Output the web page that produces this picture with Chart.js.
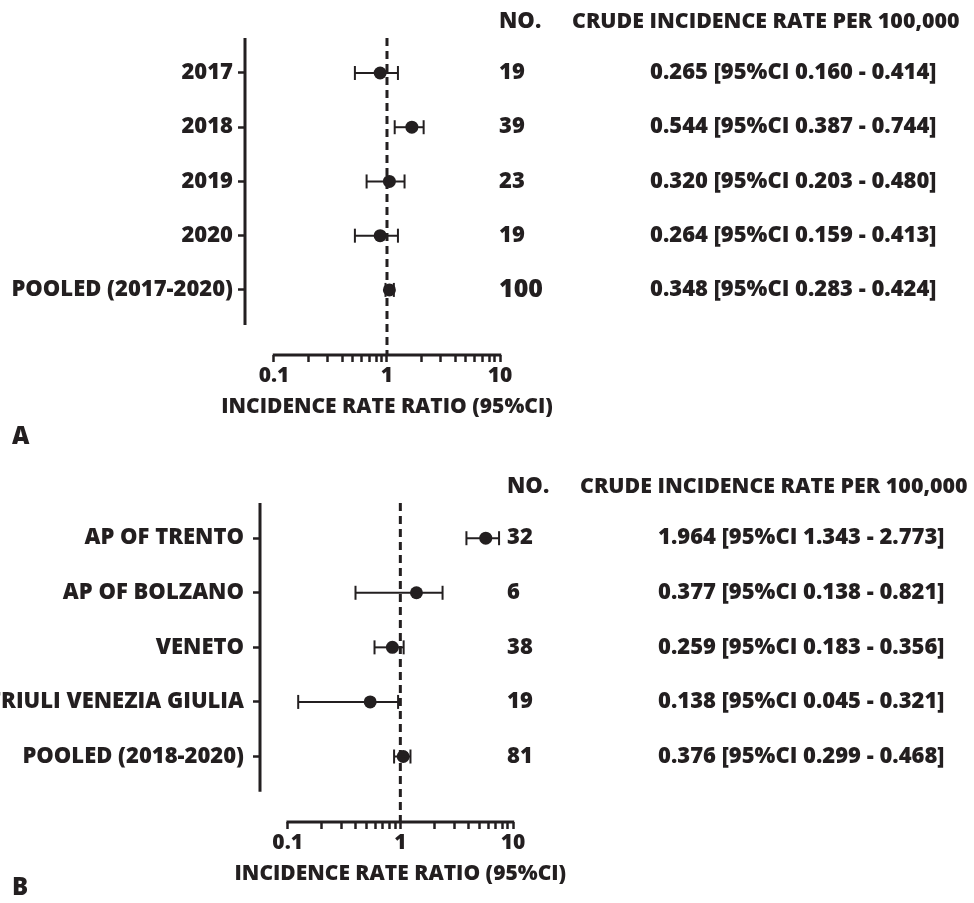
<!DOCTYPE html>
<html>
<head>
<meta charset="utf-8">
<script src="https://cdn.jsdelivr.net/npm/chart.js@4.4.1/dist/chart.umd.min.js"></script>
<style>
    body { margin: 0; background: #fff; }
    #wrap { position: relative; width: 974px; height: 903px; }
    canvas { position: absolute; left: 0; }
</style>
</head>
<body>
<div id="wrap">
    <canvas id="chartA" width="974" height="466" style="top:0"></canvas>
    <canvas id="chartB" width="974" height="437" style="top:466px"></canvas>
</div>
<script>
// panel A - per year
var yearLabels = ['2017', '2018', '2019', '2020', 'POOLED (2017-2020)'];
var yearIrr  = [0.87, 1.66, 1.05, 0.87, 1.05];
var yearLow  = [0.52, 1.17, 0.66, 0.52, 0.97];
var yearHigh = [1.25, 2.11, 1.43, 1.25, 1.15];
var yearNo   = ['19', '39', '23', '19', '100'];
var yearRate = [
    '0.265 [95%CI 0.160 - 0.414]',
    '0.544 [95%CI 0.387 - 0.744]',
    '0.320 [95%CI 0.203 - 0.480]',
    '0.264 [95%CI 0.159 - 0.413]',
    '0.348 [95%CI 0.283 - 0.424]'
];

// panel B - per area
var areaLabels = ['AP OF TRENTO', 'AP OF BOLZANO', 'VENETO', 'FRIULI VENEZIA GIULIA', 'POOLED (2018-2020)'];
var areaIrr  = [5.73, 1.39, 0.85, 0.54, 1.06];
var areaLow  = [3.86, 0.40, 0.59, 0.124, 0.88];
var areaHigh = [7.52, 2.37, 1.07, 0.955, 1.23];
var areaNo   = ['32', '6', '38', '19', '81'];
var areaRate = [
    '1.964 [95%CI 1.343 - 2.773]',
    '0.377 [95%CI 0.138 - 0.821]',
    '0.259 [95%CI 0.183 - 0.356]',
    '0.138 [95%CI 0.045 - 0.321]',
    '0.376 [95%CI 0.299 - 0.468]'
];

// log axis
var xTicks = [0.1, 0.2, 0.3, 0.4, 0.5, 0.6, 0.7, 0.8, 0.9, 1, 2, 3, 4, 5, 6, 7, 8, 9, 10];
var xTickLabels = ['0.1', '1', '10'];
var refValue = 1;

var ink = '#231f20';
var font = '"Open Sans", sans-serif';
var wt = '800';
var yMin = -0.645, yMax = 5.2, yAxisEnd = 4.645;

var decorPlugin = {
    id: 'forestDecor',
    afterDraw: function(chart, args, opts) {
        var ctx = chart.ctx;
        var xs = chart.scales.x, ys = chart.scales.y;
        var area = chart.chartArea;
        var x0 = xs.getPixelForValue(xTicks[0]);
        var x1 = xs.getPixelForValue(xTicks[xTicks.length - 1]);

        ctx.save();
        ctx.strokeStyle = ink;
        ctx.lineWidth = 3;
        // offset axis lines
        ctx.beginPath();
        ctx.moveTo(area.left, area.top);
        ctx.lineTo(area.left, ys.getPixelForValue(yAxisEnd));
        ctx.stroke();
        ctx.beginPath();
        ctx.moveTo(x0 - 1.2, area.bottom);
        ctx.lineTo(x1 + 1.2, area.bottom);
        ctx.stroke();

        // table columns
        ctx.fillStyle = ink;
        ctx.textBaseline = 'middle';
        ctx.textAlign = 'left';
        var hy = ys.getPixelForValue(-0.94);
        ctx.font = wt + ' 22px ' + font;
        ctx.fillText('NO.', opts.noX, hy);
        ctx.font = wt + ' 21.4px ' + font;
        ctx.fillText('CRUDE INCIDENCE RATE PER 100,000', opts.headX, hy);
        opts.nos.forEach(function(n, i) {
            var py = ys.getPixelForValue(i);
            ctx.font = wt + ' ' + (opts.bigLast && i === opts.nos.length - 1 ? 25 : 22) + 'px ' + font;
            ctx.fillText(n, opts.noX, py);
            ctx.font = wt + ' 22px ' + font;
            ctx.fillText(opts.rates[i], opts.rateX, py);
        });

        // axis title + panel letter
        ctx.textAlign = 'center';
        ctx.font = wt + ' 21px ' + font;
        ctx.fillText('INCIDENCE RATE RATIO (95%CI)', (x0 + x1) / 2, area.bottom + 52);
        ctx.textAlign = 'left';
        ctx.font = wt + ' 24px ' + font;
        ctx.fillText(opts.letter, 12, area.bottom + opts.letterDy);
        ctx.restore();
    }
};

function makeForest(canvasId, cfg) {
    var datasets = [];
    datasets.push({
        data: [{ x: refValue, y: yMin }, { x: refValue, y: yMax }],
        showLine: true,
        borderColor: ink,
        borderWidth: 3,
        borderDash: [8, 5],
        pointRadius: 0
    });
    cfg.labels.forEach(function(lab, i) {
        datasets.push({
            data: [{ x: cfg.low[i], y: i }, { x: cfg.high[i], y: i }],
            showLine: true,
            borderColor: ink,
            borderWidth: 2,
            pointStyle: 'line',
            pointRotation: 90,
            pointRadius: 7,
            pointBorderWidth: 2,
            pointBorderColor: ink
        });
    });
    datasets.push({
        data: cfg.irr.map(function(v, i) { return { x: v, y: i }; }),
        pointRadius: 6.5,
        pointBackgroundColor: ink,
        pointBorderColor: ink,
        pointBorderWidth: 0
    });

    return new Chart(document.getElementById(canvasId).getContext('2d'), {
        type: 'scatter',
        data: { datasets: datasets },
        plugins: [decorPlugin],
        options: {
            responsive: false,
            animation: false,
            events: [],
            layout: { padding: { left: 0, top: cfg.top, right: cfg.right, bottom: cfg.bottom } },
            plugins: {
                legend: { display: false },
                tooltip: { enabled: false },
                forestDecor: {
                    noX: cfg.noX, headX: cfg.headX, rateX: cfg.rateX,
                    nos: cfg.nos, rates: cfg.rates, bigLast: cfg.bigLast,
                    letter: cfg.letter, letterDy: cfg.letterDy
                }
            },
            scales: {
                x: {
                    type: 'logarithmic',
                    min: cfg.xMin,
                    max: 10,
                    border: { display: false },
                    grid: { drawOnChartArea: false, drawTicks: true, tickLength: 7, tickWidth: 2.5, tickColor: ink },
                    afterBuildTicks: function(scale) {
                        scale.ticks = xTicks.map(function(v) { return { value: v }; });
                    },
                    afterFit: function(scale) { scale.height = 30; },
                    ticks: {
                        autoSkip: false,
                        maxRotation: 0,
                        padding: 1,
                        color: ink,
                        font: { family: font, size: 21, weight: wt },
                        callback: function(v) {
                            var s = String(Math.round(v * 10) / 10);
                            return xTickLabels.indexOf(s) >= 0 ? s : '';
                        }
                    }
                },
                y: {
                    type: 'linear',
                    reverse: true,
                    min: yMin,
                    max: yMax,
                    border: { display: false },
                    grid: { drawOnChartArea: false, drawTicks: true, tickLength: 7, tickWidth: 2.5, tickColor: ink },
                    afterBuildTicks: function(scale) {
                        scale.ticks = cfg.labels.map(function(l, i) { return { value: i }; });
                    },
                    afterFit: function(scale) { scale.width = cfg.yWidth; },
                    ticks: {
                        padding: cfg.yPad,
                        color: ink,
                        font: { family: font, size: 22, weight: wt },
                        callback: function(v) { return cfg.labels[v]; }
                    }
                }
            }
        }
    });
}

makeForest('chartA', {
    labels: yearLabels, irr: yearIrr, low: yearLow, high: yearHigh,
    nos: yearNo, rates: yearRate, bigLast: true,
    xMin: 0.0554, yWidth: 245, yPad: 5,
    top: 38, right: 474, bottom: 81,
    noX: 499, headX: 572, rateX: 650,
    letter: 'A', letterDy: 82
});

makeForest('chartB', {
    labels: areaLabels, irr: areaIrr, low: areaLow, high: areaHigh,
    nos: areaNo, rates: areaRate, bigLast: false,
    xMin: 0.0568, yWidth: 260, yPad: 9,
    top: 37, right: 461, bottom: 51,
    noX: 507, headX: 580, rateX: 658,
    letter: 'B', letterDy: 66
});
</script>
</body>
</html>
